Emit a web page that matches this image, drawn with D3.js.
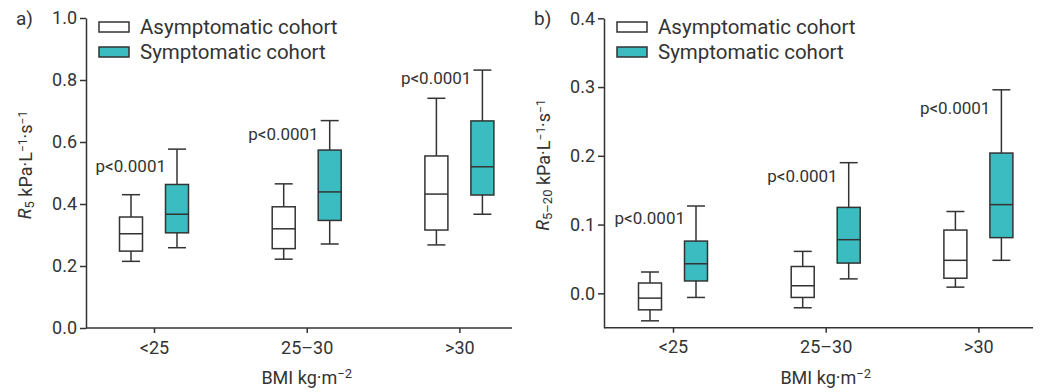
<!DOCTYPE html>
<html>
<head>
<meta charset="utf-8">
<script src="https://cdn.jsdelivr.net/npm/d3@7"></script>
<style>
  body { margin: 0; background: #fff; }
  text { font-family: Roboto, "DejaVu Sans", sans-serif; fill: #333; }
</style>
</head>
<body>
<div id="chart"></div>
<script>
// categories and series: [min, q1, median, q3, max]
var categories = ["<25", "25\u201330", ">30"];
var seriesNames = ["Asymptomatic cohort", "Symptomatic cohort"];

var r5Asym = [
  [0.215, 0.248, 0.304, 0.358, 0.430],
  [0.222, 0.256, 0.320, 0.391, 0.465],
  [0.268, 0.316, 0.432, 0.555, 0.741]
];
var r5Sym = [
  [0.259, 0.307, 0.367, 0.463, 0.577],
  [0.271, 0.347, 0.439, 0.574, 0.669],
  [0.367, 0.429, 0.520, 0.668, 0.832]
];
var r520Asym = [
  [-0.040, -0.024, -0.007, 0.015, 0.031],
  [-0.021, -0.006, 0.011, 0.039, 0.061],
  [0.009, 0.022, 0.048, 0.092, 0.119]
];
var r520Sym = [
  [-0.006, 0.018, 0.043, 0.076, 0.127],
  [0.021, 0.044, 0.078, 0.125, 0.190],
  [0.048, 0.081, 0.129, 0.204, 0.296]
];

// p-value labels and where they sit (in y units)
var pLabels = ["p<0.0001", "p<0.0001", "p<0.0001"];
var r5PLabelY = [0.523, 0.626, 0.806];
var r520PLabelY = [0.1095, 0.170, 0.270];

var r5Ticks = [0.0, 0.2, 0.4, 0.6, 0.8, 1.0];
var r520Ticks = [0.0, 0.1, 0.2, 0.3, 0.4];

var svgWidth = 1042;
var svgHeight = 392;
var teal = "#3bbcc0";
var ink = "#333";

var svg = d3.select("#chart")
  .append("svg")
  .attr("width", svgWidth)
  .attr("height", svgHeight);

function drawPanel(opts) {
  var g = svg.append("g");

  var y = d3.scaleLinear()
    .domain(opts.yDomain)
    .range([opts.bottom, opts.top]);

  var x = d3.scalePoint()
    .domain(categories)
    .range([opts.left + opts.firstTick, opts.left + opts.firstTick + opts.step * 2]);

  var boxW = 23, capW = 18, offset = 23;

  // y axis
  var yAxis = g.append("g")
    .attr("transform", `translate(${opts.left},0)`)
    .call(d3.axisLeft(y).tickValues(opts.ticks).tickFormat(d3.format(".1f"))
      .tickSize(6).tickPadding(3).tickSizeOuter(0));
  yAxis.selectAll("text").style("font-size", "18px");

  // x axis
  var xAxis = g.append("g")
    .attr("transform", `translate(0,${opts.bottom})`)
    .call(d3.axisBottom(x).tickSize(5).tickPadding(8).tickSizeOuter(0));
  xAxis.select(".domain").remove();
  xAxis.selectAll("text").style("font-size", "18px");
  g.append("line")
    .attr("x1", opts.left).attr("x2", opts.right)
    .attr("y1", opts.bottom).attr("y2", opts.bottom);

  g.selectAll(".domain, .tick line, line")
    .attr("stroke", ink).attr("stroke-width", 1.5);

  // boxes
  [opts.asym, opts.sym].forEach(function(series, si) {
    var dx = si === 0 ? -offset : offset;
    var fill = si === 0 ? "#fff" : teal;
    var boxes = g.selectAll(".box" + si)
      .data(series)
      .enter()
      .append("g")
      .attr("class", "box" + si)
      .attr("transform", (d, i) => `translate(${x(categories[i]) + dx},0)`);

    boxes.append("line")
      .attr("x1", 0).attr("x2", 0)
      .attr("y1", d => y(d[0])).attr("y2", d => y(d[4]));
    boxes.append("line")
      .attr("x1", -capW / 2).attr("x2", capW / 2)
      .attr("y1", d => y(d[0])).attr("y2", d => y(d[0]));
    boxes.append("line")
      .attr("x1", -capW / 2).attr("x2", capW / 2)
      .attr("y1", d => y(d[4])).attr("y2", d => y(d[4]));
    boxes.append("rect")
      .attr("x", -boxW / 2).attr("width", boxW)
      .attr("y", d => y(d[3]))
      .attr("height", d => y(d[1]) - y(d[3]))
      .attr("fill", fill);
    boxes.append("line")
      .attr("x1", -boxW / 2).attr("x2", boxW / 2)
      .attr("y1", d => y(d[2])).attr("y2", d => y(d[2]));
    boxes.selectAll("line, rect")
      .attr("stroke", ink).attr("stroke-width", 1.5);
  });

  // p-values
  g.selectAll(".pval")
    .data(pLabels)
    .enter()
    .append("text")
    .attr("class", "pval")
    .attr("x", (d, i) => x(categories[i]) + offset - 11)
    .attr("y", (d, i) => y(opts.pY[i]))
    .attr("dy", "0.35em")
    .attr("text-anchor", "end")
    .style("font-size", "17px")
    .text(d => d);

  // legend
  seriesNames.forEach(function(name, i) {
    var ly = 27 + i * 25;
    g.append("rect")
      .attr("x", opts.left + 13).attr("y", ly - 5)
      .attr("width", 30).attr("height", 10)
      .attr("fill", i === 0 ? "#fff" : teal)
      .attr("stroke", ink).attr("stroke-width", 1.5);
    g.append("text")
      .attr("x", opts.left + 54).attr("y", ly)
      .attr("dy", "0.35em")
      .style("font-size", "20.5px")
      .text(name);
  });

  // panel letter
  g.append("text")
    .attr("x", opts.left - 70).attr("y", 18)
    .attr("dy", "0.35em")
    .style("font-size", "19px")
    .text(opts.letter);

  // y label
  var yl = g.append("text")
    .attr("transform", `translate(${opts.left - 61},${(opts.top + opts.bottom) / 2 - 8}) rotate(-90)`)
    .attr("text-anchor", "middle")
    .attr("dy", "0.35em")
    .style("font-size", "18px");
  yl.append("tspan").style("font-style", "italic").text("R");
  yl.append("tspan").style("font-size", "13px").attr("dy", "0.2em").text(opts.sub);
  yl.append("tspan").attr("dy", "-0.1em").text(" kPa\u00b7L");
  yl.append("tspan").style("font-size", "12px").attr("dy", "-0.45em").text("\u22121");
  yl.append("tspan").attr("dy", "0.3em").text("\u00b7s");
  yl.append("tspan").style("font-size", "12px").attr("dy", "-0.45em").text("\u22121");

  // x label
  var xl = g.append("text")
    .attr("x", x(categories[1]))
    .attr("y", 384)
    .attr("text-anchor", "middle")
    .style("font-size", "18px");
  xl.append("tspan").text("BMI kg\u00b7m");
  xl.append("tspan").style("font-size", "13px").attr("dy", "-0.5em").text("\u22122");
}

drawPanel({
  letter: "a)", left: 86, right: 512, top: 18, bottom: 328,
  firstTick: 68, step: 152.7,
  yDomain: [0, 1.0], ticks: r5Ticks,
  asym: r5Asym, sym: r5Sym, pY: r5PLabelY, sub: "5"
});

drawPanel({
  letter: "b)", left: 604, right: 1033, top: 18.3, bottom: 327.7,
  firstTick: 69, step: 152.7,
  yDomain: [-0.05, 0.4], ticks: r520Ticks,
  asym: r520Asym, sym: r520Sym, pY: r520PLabelY, sub: "5\u201320"
});
</script>
</body>
</html>
